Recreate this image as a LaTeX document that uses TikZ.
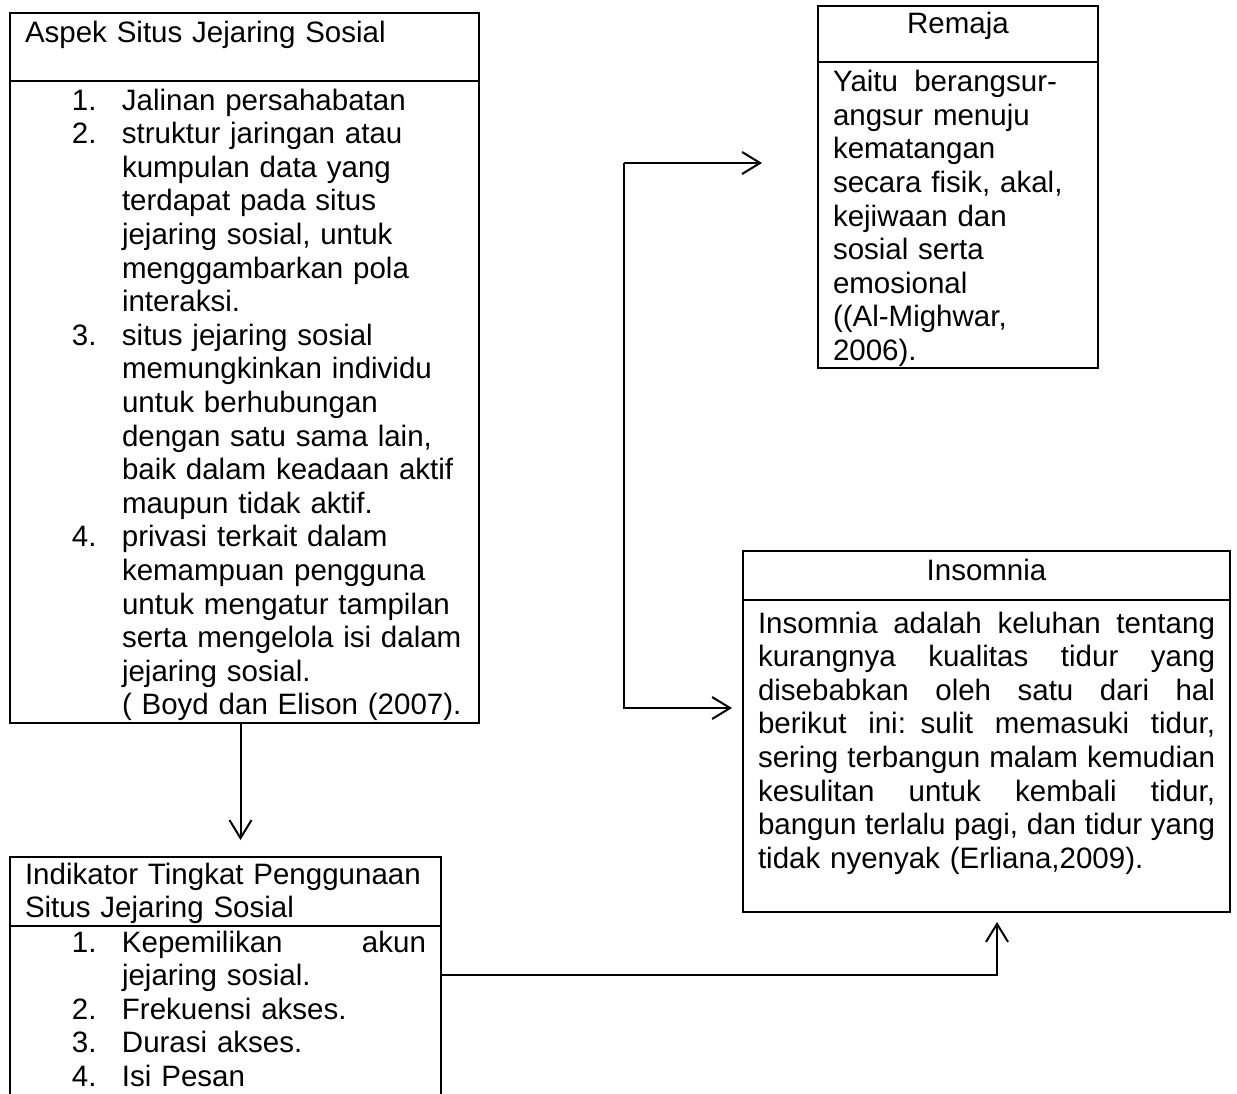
\documentclass[tikz,border=0pt]{standalone}
\usepackage{fontspec}
\setmainfont{Liberation Sans}
\usetikzlibrary{arrows.meta,positioning}

\newcommand{\itm}[2]{\hspace*{47pt}\makebox[50pt][l]{#1}#2}
\newcommand{\cnt}[1]{\hspace*{97pt}#1}
\newcommand{\jline}[2]{\leavevmode\hbox to #1{\spaceskip=0.278em plus 1fil\relax #2}}

\begin{document}
\begin{tikzpicture}[x=1pt,y=-1pt,
  box/.style={draw,line width=2pt,outer sep=0pt,anchor=north west,inner xsep=15pt,inner ysep=0pt,align=left,font=\fontsize{29.5}{33.6}\selectfont},
  arr/.style={line width=2pt,-{Straight Barb[length=18pt,width=22pt]}}]
\useasboundingbox (0,0) rectangle (1237,1093);
\clip (0,0) rectangle (1237,1093);

\node[box,text width=439pt,text height=29pt,text depth=39pt] (aspekhead) at (10,13) {Aspek Situs Jejaring Sosial};
\node[box,text width=439pt,text height=29pt,text depth=613pt] (aspek) at (aspekhead.south west) {%
\itm{1.}{Jalinan persahabatan}\\
\itm{2.}{struktur jaringan atau}\\
\cnt{kumpulan data yang}\\
\cnt{terdapat pada situs}\\
\cnt{jejaring sosial, untuk}\\
\cnt{menggambarkan pola}\\
\cnt{interaksi.}\\
\itm{3.}{situs jejaring sosial}\\
\cnt{memungkinkan individu}\\
\cnt{untuk berhubungan}\\
\cnt{dengan satu sama lain,}\\
\cnt{baik dalam keadaan aktif}\\
\cnt{maupun tidak aktif.}\\
\itm{4.}{privasi terkait dalam}\\
\cnt{kemampuan pengguna}\\
\cnt{untuk mengatur tampilan}\\
\cnt{serta mengelola isi dalam}\\
\cnt{jejaring sosial.}\\
\cnt{( Boyd dan Elison (2007).}};

\node[box,text width=401pt,text height=27pt,text depth=42pt] (indikhead) at (10,857) {Indikator Tingkat Penggunaan\\Situs Jejaring Sosial};
\node[box,text width=401pt,text height=26pt,text depth=300pt] (indik) at (indikhead.south west) {%
\itm{1.}{Kepemilikan\hfill akun}\\
\cnt{jejaring sosial.}\\
\itm{2.}{Frekuensi akses.}\\
\itm{3.}{Durasi akses.}\\
\itm{4.}{Isi Pesan}};

\node[box,align=center,text width=250pt,text height=27pt,text depth=29pt] (remajahead) at (818,6) {Remaja};
\node[box,text width=250pt,text height=29.7pt,text depth=276pt] (remaja) at (remajahead.south west) {%
\jline{224pt}{Yaitu berangsur-}\\
angsur menuju\\
kematangan\\
secara fisik, akal,\\
kejiwaan dan\\
sosial serta\\
emosional\\
((Al-Mighwar,\\
2006).};

\node[box,align=center,text width=457pt,text height=29pt,text depth=20pt] (insomhead) at (743,551) {Insomnia};
\node[box,text width=457pt,text height=33pt,text depth=279pt] (insom) at (insomhead.south west) {%
\jline{457pt}{Insomnia adalah keluhan tentang}\\
\jline{457pt}{kurangnya kualitas tidur yang}\\
\jline{457pt}{disebabkan oleh satu dari hal}\\
\jline{457pt}{berikut ini: sulit memasuki tidur,}\\
\jline{457pt}{sering terbangun malam kemudian}\\
\jline{457pt}{kesulitan untuk kembali tidur,}\\
\jline{457pt}{bangun terlalu pagi, dan tidur yang}\\
tidak nyenyak (Erliana,2009).};

\coordinate (forktop) at (624,163);
\coordinate (forkbot) at (624,708);
\coordinate (bend) at (997,975);

\draw[arr,shorten >=17pt] ([xshift=-4pt]aspek.south) -- ([xshift=-4pt]aspek.south |- indikhead.north);
\draw[arr,shorten >=10pt] (indik.east |- bend) -- (bend) -- (bend |- insom.south);
\draw[arr,shorten >=56pt] (forktop) -- (remaja.west |- forktop);
\draw[arr,shorten >=11pt] (forktop) -- (forkbot) -- (insom.west |- forkbot);
\end{tikzpicture}
\end{document}
